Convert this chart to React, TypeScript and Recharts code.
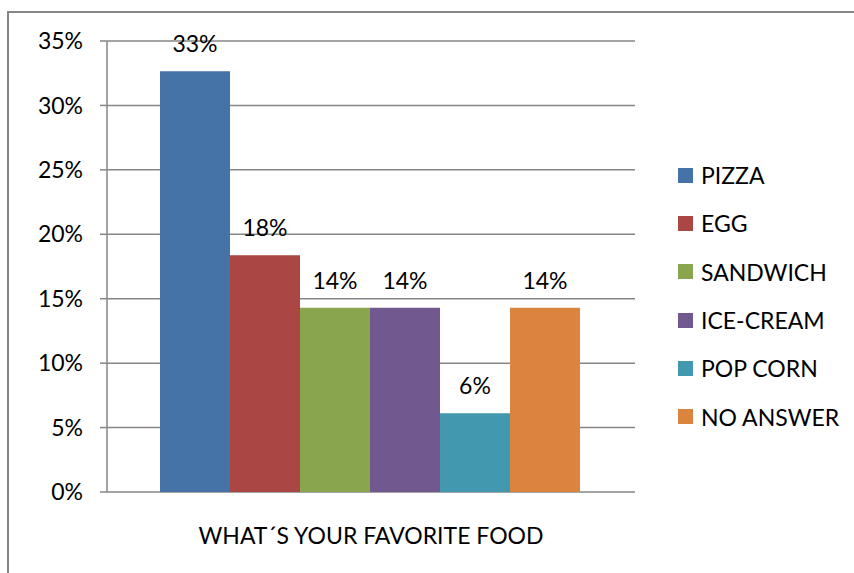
import { BarChart, Bar, XAxis, YAxis, CartesianGrid, Legend, LabelList } from 'recharts';

const category = 'WHAT´S YOUR FAVORITE FOOD';
const foods = ['PIZZA', 'EGG', 'SANDWICH', 'ICE-CREAM', 'POP CORN', 'NO ANSWER'];
const shares = [0.3265, 0.1837, 0.1429, 0.1429, 0.0612, 0.1429];
const colors = ['#4572A7', '#AA4643', '#89A54E', '#71588F', '#4198AF', '#DB843D'];
const yTicks = [0, 0.05, 0.1, 0.15, 0.2, 0.25, 0.3, 0.35];

const row: Record<string, string | number> = { name: category };
foods.forEach((f, i) => {
  row[f] = shares[i];
});
const data = [row];

const font = 'Lato, "Open Sans", sans-serif';
const gray = '#868686';
const pct = (v: number) => `${Math.round(v * 100)}%`;

function LegendBox() {
  return (
    <div style={{ fontFamily: font, fontSize: 23 }}>
      {foods.map((f, i) => (
        <div key={f} style={{ display: 'flex', alignItems: 'center', height: 48.3 }}>
          <span style={{ width: 15, height: 15, background: colors[i], marginRight: 8 }} />
          <span style={{ color: '#000' }}>{f}</span>
        </div>
      ))}
    </div>
  );
}

export default function App() {
  return (
    <div style={{ position: 'absolute', left: 0, top: 0, width: 854, height: 573, background: '#fff', overflow: 'hidden' }}>
      <div
        style={{
          position: 'absolute',
          left: 7,
          top: 11,
          width: 900,
          height: 600,
          borderLeft: `2px solid ${gray}`,
          borderTop: `2px solid ${gray}`,
        }}
      />
      <BarChart
        width={854}
        height={573}
        data={data}
        margin={{ top: 41, right: 49, bottom: 0, left: 0 }}
        barCategoryGap={53}
        barGap={0}
        style={{ position: 'absolute', left: 0, top: 0 }}
      >
        <CartesianGrid vertical={false} stroke={gray} strokeWidth={1.5} />
        <XAxis
          xAxisId="frame"
          type="number"
          domain={[0, 1]}
          ticks={[0, 1]}
          tick={false}
          tickSize={8}
          height={0}
          stroke={gray}
          strokeWidth={1.5}
        />
        <XAxis
          dataKey="name"
          axisLine={false}
          tickLine={false}
          tickSize={0}
          tickMargin={36}
          height={81}
          tick={{ fill: '#000', fontFamily: font, fontSize: 23 }}
        />
        <YAxis
          width={107}
          domain={[0, 0.35]}
          ticks={yTicks}
          tickFormatter={pct}
          tickSize={7}
          tickMargin={17}
          stroke={gray}
          strokeWidth={1.5}
          tick={{ fill: '#000', fontFamily: font, fontSize: 23 }}
        />
        <Legend
          layout="vertical"
          align="right"
          verticalAlign="middle"
          content={LegendBox}
          wrapperStyle={{ position: 'absolute', left: 678, top: 151, width: 170 }}
        />
        {foods.map((f, i) => (
          <Bar key={f} dataKey={f} fill={colors[i]} isAnimationActive={false}>
            <LabelList
              dataKey={f}
              position="top"
              offset={19}
              formatter={(v: number) => pct(v)}
              style={{ fill: '#000', fontFamily: font, fontSize: 23 }}
            />
          </Bar>
        ))}
      </BarChart>
    </div>
  );
}
